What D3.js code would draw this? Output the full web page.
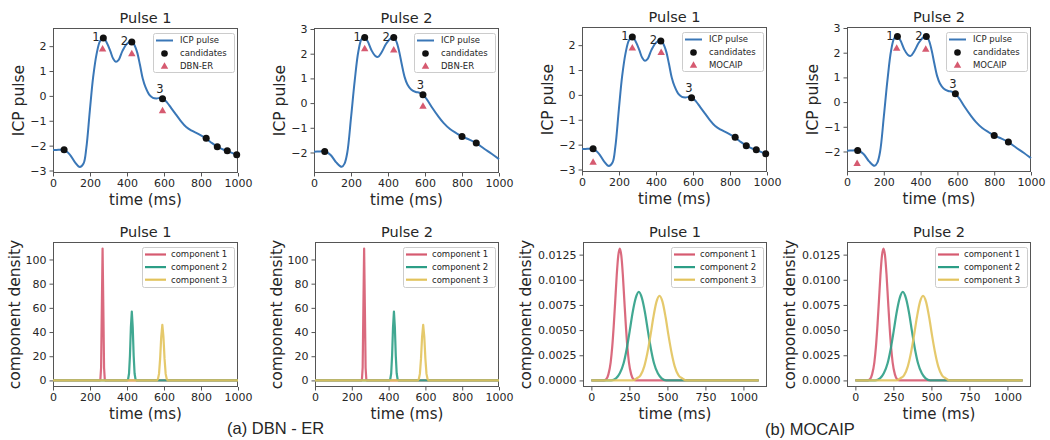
<!DOCTYPE html>
<html><head><meta charset="utf-8">
<script src="https://cdn.jsdelivr.net/npm/d3@7"></script>
<style>
body{margin:0;background:#fff}
svg{display:block}
text{font-family:"DejaVu Sans",sans-serif;fill:#262626}
</style>
</head><body>
<svg id="c" width="1050" height="440"></svg>
<script>
// ---------- DATA ----------
// ICP pulse curves (time in ms, value)
const pulse1Time = [0,30,58,90,120,145,165,180,199,217,236,254,272,290,310,325,340,355,375,400,425,440,455,470,485,500,520,540,560,580,595,615,640,665,690,720,750,790,828,860,888,915,942,970,993,1000];
const pulse1Val  = [-2.18,-2.17,-2.16,-2.35,-2.68,-2.86,-2.72,-2.1,-0.6,0.75,1.7,2.2,2.33,2.15,1.8,1.5,1.37,1.45,1.8,2.1,2.18,2.05,1.75,1.25,0.7,0.35,0.05,-0.08,-0.1,-0.08,-0.11,-0.25,-0.5,-0.75,-1.0,-1.25,-1.4,-1.55,-1.72,-1.9,-2.04,-2.14,-2.22,-2.3,-2.37,-2.42];
const pulse2Time = [0,30,58,90,120,150,165,180,200,220,240,258,274,290,310,330,346,365,390,415,431,445,460,475,490,505,525,550,570,589,610,640,670,700,735,770,800,840,877,920,960,1000];
const pulse2Val  = [-1.97,-1.96,-1.95,-2.1,-2.4,-2.58,-2.45,-2.0,-0.6,0.9,2.1,2.6,2.66,2.5,2.15,1.92,1.87,2.05,2.4,2.62,2.66,2.5,2.1,1.55,1.05,0.75,0.55,0.45,0.42,0.34,0.15,-0.2,-0.52,-0.8,-1.05,-1.22,-1.35,-1.48,-1.62,-1.85,-2.05,-2.27];

// candidate points
const cand1Time = [60,272,426,592,828,888,942,993];
const cand1Val  = [-2.17,2.33,2.17,-0.11,-1.70,-2.04,-2.21,-2.37];
const cand2Time = [58,274,431,589,800,877];
const cand2Val  = [-1.96,2.66,2.66,0.34,-1.35,-1.62];
const candLabels = ["1","2","3"];

// estimated peaks (triangles)
const dbn1Time = [268,426,592];    const dbn1Val = [1.87,1.68,-0.61];
const dbn2Time = [274,431,589];    const dbn2Val = [2.19,2.14,-0.14];
const moc1Time = [60,272,428];     const moc1Val = [-2.72,1.87,1.69];
const moc2Time = [55,270,428];     const moc2Val = [-2.5,2.17,2.13];

// DBN-ER component densities
const dbnP1C1T = [0,252,256,260,264,268,272,276,280,284,1000];
const dbnP1C1V = [0,0,0.6,10.5,61,109,61,10.5,0.6,0,0];
const dbnP1C2T = [0,401,406,411,416,421,426,431,436,441,446,451,1000];
const dbnP1C2V = [0,0,1,5.7,20.5,44,57,44,20.5,5.7,1,0,0];
const dbnP1C3T = [0,561,567,573,579,585,591,597,603,609,615,621,1000];
const dbnP1C3V = [0,0,1,5.4,17.8,36,46,36,17.8,5.4,1,0,0];
const dbnP2C1T = [0,251,255,259,263,267,271,275,279,283,1000];
const dbnP2C1V = [0,0,0.6,10.5,61,109,61,10.5,0.6,0,0];
const dbnP2C2T = [0,404,409,414,419,424,429,434,439,444,449,454,1000];
const dbnP2C2V = [0,0,1,5.7,20.5,44,57,44,20.5,5.7,1,0,0];
const dbnP2C3T = [0,558,564,570,576,582,588,594,600,606,612,618,1000];
const dbnP2C3V = [0,0,1,5.4,17.8,36,46,36,17.8,5.4,1,0,0];

// MOCAIP component densities
const mocP1C1T = [0,82,97,112,127,137,147,157,167,177,187,197,207,217,227,237,247,262,277,292,1100];
const mocP1C1V = [0,0,0.0001,0.0006,0.0018,0.0033,0.0054,0.0079,0.0105,0.0124,0.0131,0.0124,0.0105,0.0079,0.0054,0.0033,0.0018,0.0006,0.0001,0,0];
const mocP1C2T = [0,130,162,187,212,232,252,272,292,312,332,352,372,392,412,437,462,492,1100];
const mocP1C2V = [0,0,0.0002,0.0007,0.0017,0.0031,0.0049,0.0068,0.0082,0.0088,0.0082,0.0068,0.0049,0.0031,0.0017,0.0007,0.0002,0,0];
const mocP1C3T = [0,273,298,323,348,368,388,408,428,448,468,488,508,528,548,573,598,623,1100];
const mocP1C3V = [0,0,0.0002,0.0005,0.0014,0.0027,0.0044,0.0063,0.0078,0.0084,0.0078,0.0063,0.0044,0.0027,0.0014,0.0005,0.0002,0,0];
const mocP2C1T = [0,80,95,110,125,135,145,155,165,175,185,195,205,215,225,235,245,260,275,290,1100];
const mocP2C1V = [0,0,0.0001,0.0006,0.0018,0.0033,0.0054,0.0079,0.0105,0.0124,0.0131,0.0124,0.0105,0.0079,0.0054,0.0033,0.0018,0.0006,0.0001,0,0];
const mocP2C2T = [0,130,162,187,212,232,252,272,292,312,332,352,372,392,412,437,462,492,1100];
const mocP2C2V = [0,0,0.0002,0.0007,0.0017,0.0031,0.0049,0.0068,0.0082,0.0088,0.0082,0.0068,0.0049,0.0031,0.0017,0.0007,0.0002,0,0];
const mocP2C3T = [0,270,295,320,345,365,385,405,425,445,465,485,505,525,545,570,595,620,1100];
const mocP2C3V = [0,0,0.0002,0.0005,0.0014,0.0027,0.0044,0.0063,0.0078,0.0084,0.0078,0.0063,0.0044,0.0027,0.0014,0.0005,0.0002,0,0];

// tick labels
const xTicksMs = [0,200,400,600,800,1000];
const xTicksMoc = [0,250,500,750,1000];
const yTicksP1 = [-3,-2,-1,0,1,2];
const yTicksP2 = [-2,-1,0,1,2,3];
const yTicksDbn = [0,20,40,60,80,100];
const yTicksMoc = [0,0.0025,0.005,0.0075,0.01,0.0125];
const compNames = ["component 1","component 2","component 3"];
const titles = ["Pulse 1","Pulse 2"];
const captions = ["(a) DBN - ER","(b) MOCAIP"];

// ---------- STYLE ----------
const cBlue = "#3a77b7", cRed = "#d65a70", cTeal = "#2c9e86", cYel = "#e2c35c";
const compColors = [cRed, cTeal, cYel];
const spine = "#555";

const svg = d3.select("#c");

function zip(t, v){ return t.map((d,i)=>[d, v[i]]); }

function axesFrame(g, x, y, L, R, T, B, xt, yt, yfmt, title, ylabel, ylabOff){
  const xa = d3.axisBottom(x).tickValues(xt).tickFormat(d3.format("d")).tickSize(3.5).tickPadding(2.5);
  const ya = d3.axisLeft(y).tickValues(yt).tickFormat(yfmt).tickSize(3.5).tickPadding(3);
  const gx = g.append("g").attr("transform",`translate(0,${B})`).call(xa);
  const gy = g.append("g").attr("transform",`translate(${L},0)`).call(ya);
  [gx,gy].forEach(a=>{
    a.select(".domain").remove();
    a.selectAll("line").attr("stroke",spine);
    a.selectAll("text").style("font-size","11px").attr("fill","#333");
  });
  g.append("rect").attr("x",L+0.5).attr("y",T+0.5).attr("width",R-L-1).attr("height",B-T-1)
    .attr("fill","none").attr("stroke",spine).attr("stroke-width",1);
  g.append("text").attr("x",(L+R)/2).attr("y",T-5).attr("text-anchor","middle")
    .style("font-size","14.5px").text(title);
  g.append("text").attr("x",(L+R)/2).attr("y",B+32).attr("text-anchor","middle")
    .style("font-size","15px").text("time (ms)");
  g.append("text").attr("transform",`translate(${L-ylabOff},${(T+B)/2}) rotate(-90)`)
    .attr("text-anchor","middle").attr("dominant-baseline","central")
    .style("font-size","15.5px").text(ylabel);
}

function legendBox(g, x0, y0, w, h){
  g.append("rect").attr("x",x0+0.5).attr("y",y0+0.5).attr("width",w).attr("height",h).attr("rx",2)
    .attr("fill","#fff").attr("fill-opacity",0.85).attr("stroke","#ccc").attr("stroke-width",1);
}

function topPanel(L, R, T, B, tArr, vArr, cT, cV, pT, pV, yt, title, method){
  const g = svg.append("g");
  const x = d3.scaleLinear().domain([0,1000]).range([L,R]);
  const yDom = yt[0] === -3 ? [-3.1, 2.73] : [-2.83, 3.04];
  const y = d3.scaleLinear().domain(yDom).range([B,T]);
  axesFrame(g, x, y, L, R, T, B, xTicksMs, yt, d3.format("d"), title, "ICP pulse", 34);
  const line = d3.line().x(d=>x(d[0])).y(d=>y(d[1])).curve(d3.curveCatmullRom.alpha(0.5));
  g.append("path").datum(zip(tArr,vArr)).attr("d",line).attr("fill","none")
    .attr("stroke",cBlue).attr("stroke-width",2);
  g.selectAll(".cand").data(zip(cT,cV)).join("circle")
    .attr("cx",d=>x(d[0])).attr("cy",d=>y(d[1])).attr("r",3.5).attr("fill","#111");
  const tri = d3.symbol(d3.symbolTriangle, 24);
  g.selectAll(".tri").data(zip(pT,pV)).join("path").attr("d",tri)
    .attr("transform",d=>`translate(${x(d[0])},${y(d[1])})`).attr("fill",cRed);
  // numbers on candidates 1..3
  candLabels.forEach((lab,i)=>{
    const cx = x(cT[i+1]), cy = y(cV[i+1]);
    const last = i===2;
    g.append("text").attr("x", cx + (last?-2.5:-7.5)).attr("y", cy + (last?-5.5:3.5))
      .attr("text-anchor","middle").style("font-size","11.5px").text(lab);
  });
  // legend
  const bx = R-85, by = T+5;
  legendBox(g, bx, by, 81, 39);
  const rows = [by+7.5, by+20.5, by+33.5];
  g.append("line").attr("x1",bx+3).attr("x2",bx+20).attr("y1",rows[0]).attr("y2",rows[0])
    .attr("stroke",cBlue).attr("stroke-width",2);
  g.append("circle").attr("cx",bx+11.5).attr("cy",rows[1]).attr("r",3.3).attr("fill","#111");
  g.append("path").attr("d",tri).attr("transform",`translate(${bx+11.5},${rows[2]})`).attr("fill",cRed);
  ["ICP pulse","candidates",method].forEach((s,i)=>{
    g.append("text").attr("x",bx+27).attr("y",rows[i]).attr("dy","0.35em")
      .style("font-size","8.5px").attr("fill","#333").text(s);
  });
}

function botPanel(L, R, T, B, series, isMoc, title){
  const g = svg.append("g");
  const x = d3.scaleLinear().domain(isMoc?[-55,1155]:[0,1000]).range([L,R]);
  const y = d3.scaleLinear().domain(isMoc?[-0.000655,0.013755]:[-5.45,114.45]).range([B,T]);
  axesFrame(g, x, y, L, R, T, B, isMoc?xTicksMoc:xTicksMs, isMoc?yTicksMoc:yTicksDbn,
    isMoc?d3.format(".4f"):d3.format("d"), title, "component density", isMoc?57:38);
  const line = d3.line().x(d=>x(d[0])).y(d=>y(d[1])).curve(isMoc?d3.curveMonotoneX:d3.curveLinear);
  series.forEach((s,i)=>{
    g.append("path").datum(zip(s[0],s[1])).attr("d",line).attr("fill","none")
      .attr("stroke",compColors[i]).attr("stroke-width",2.2).attr("stroke-opacity",0.9)
      .attr("stroke-linejoin","round");
  });
  const bx = R-96, by = T+5;
  legendBox(g, bx, by, 92, 40);
  compNames.forEach((s,i)=>{
    const yy = by+7.5+i*12.6;
    g.append("line").attr("x1",bx+3).attr("x2",bx+24).attr("y1",yy).attr("y2",yy)
      .attr("stroke",compColors[i]).attr("stroke-width",2.2);
    g.append("text").attr("x",bx+29).attr("y",yy).attr("dy","0.35em")
      .style("font-size","8.5px").attr("fill","#333").text(s);
  });
}

topPanel(53,238,28,173, pulse1Time,pulse1Val, cand1Time,cand1Val, dbn1Time,dbn1Val, yTicksP1, titles[0], "DBN-ER");
topPanel(314,499,28,173, pulse2Time,pulse2Val, cand2Time,cand2Val, dbn2Time,dbn2Val, yTicksP2, titles[1], "DBN-ER");
topPanel(582,767,27,172, pulse1Time,pulse1Val, cand1Time,cand1Val, moc1Time,moc1Val, yTicksP1, titles[0], "MOCAIP");
topPanel(847,1031,27,172, pulse2Time,pulse2Val, cand2Time,cand2Val, moc2Time,moc2Val, yTicksP2, titles[1], "MOCAIP");

botPanel(53,238,242,387, [[dbnP1C1T,dbnP1C1V],[dbnP1C2T,dbnP1C2V],[dbnP1C3T,dbnP1C3V]], false, titles[0]);
botPanel(315,499,242,387, [[dbnP2C1T,dbnP2C1V],[dbnP2C2T,dbnP2C2V],[dbnP2C3T,dbnP2C3V]], false, titles[1]);
botPanel(583,767,242,387, [[mocP1C1T,mocP1C1V],[mocP1C2T,mocP1C2V],[mocP1C3T,mocP1C3V]], true, titles[0]);
botPanel(847,1031,242,387, [[mocP2C1T,mocP2C1V],[mocP2C2T,mocP2C2V],[mocP2C3T,mocP2C3V]], true, titles[1]);

svg.append("text").attr("x",227).attr("y",434).style("font-family","'Liberation Sans',Arial,sans-serif")
  .style("font-size","16.5px").attr("fill","#222").text(captions[0]);
svg.append("text").attr("x",765).attr("y",435).style("font-family","'Liberation Sans',Arial,sans-serif")
  .style("font-size","16.5px").attr("fill","#222").text(captions[1]);
</script>
</body></html>
